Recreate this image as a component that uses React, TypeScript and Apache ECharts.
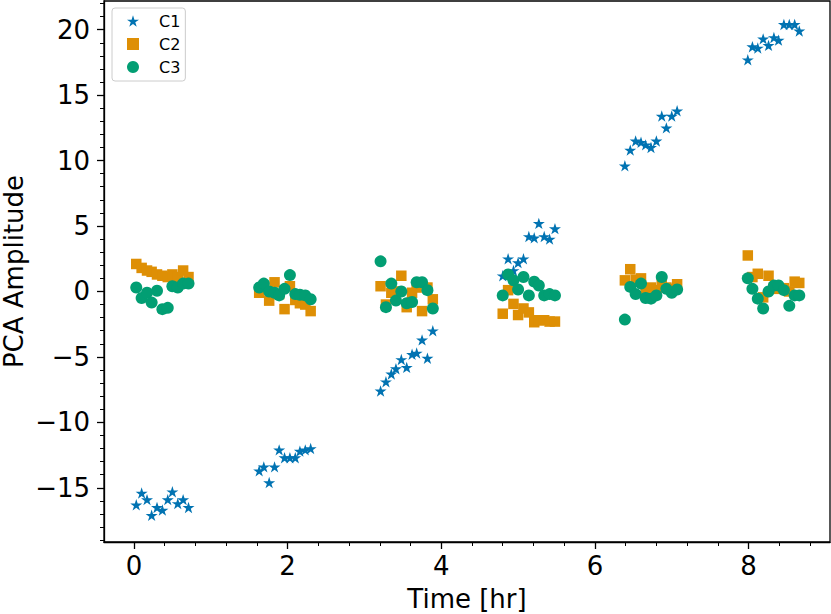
import React, { useEffect, useRef } from "react";
import * as echarts from "echarts";

// Sample times [hr], six acquisition groups
const tG1 = [0.03, 0.10, 0.17, 0.23, 0.30, 0.37, 0.44, 0.50, 0.57, 0.64, 0.71];
const tG2 = [1.63, 1.69, 1.76, 1.83, 1.89, 1.96, 2.03, 2.10, 2.16, 2.23, 2.30];
const tG3 = [3.21, 3.28, 3.35, 3.41, 3.48, 3.55, 3.62, 3.68, 3.75, 3.82, 3.89];
const tG4 = [4.80, 4.87, 4.94, 5.00, 5.07, 5.14, 5.21, 5.27, 5.34, 5.41, 5.48];
const tG5 = [6.39, 6.46, 6.53, 6.60, 6.66, 6.73, 6.80, 6.87, 6.93, 7.00, 7.07];
const tG6 = [7.99, 8.05, 8.12, 8.19, 8.26, 8.33, 8.39, 8.46, 8.53, 8.60, 8.66];

// C1 amplitude
const c1G1 = [-16.3, -15.4, -15.9, -17.1, -16.5, -16.7, -15.9, -15.3, -16.2, -15.9, -16.5];
const c1G2 = [-13.7, -13.4, -14.6, -13.4, -12.1, -12.7, -12.7, -12.7, -12.2, -12.1, -12.0];
const c1G3 = [-7.6, -6.9, -6.3, -5.9, -5.2, -5.8, -4.8, -4.7, -3.7, -5.1, -3.0];
const c1G4 = [1.2, 2.5, 1.6, 2.2, 2.5, 4.2, 4.1, 5.2, 4.2, 4.0, 4.8];
const c1G5 = [9.6, 10.8, 11.5, 11.4, 11.2, 11.0, 11.5, 13.4, 12.5, 13.4, 13.8];
const c1G6 = [17.7, 18.7, 18.6, 19.3, 18.8, 19.4, 19.2, 20.4, 20.4, 20.4, 19.9];

// C2 amplitude
const c2G1 = [2.1, 1.8, 1.6, 1.5, 1.3, 1.2, 1.1, 1.3, 1.1, 1.6, 1.1];
const c2G2 = [-0.1, 0.3, -0.7, 0.7, -0.2, -1.35, 0.4, -0.65, -0.9, -1.0, -1.5];
const c2G3 = [0.4, -1.0, -0.1, 0.0, 1.2, -1.2, -0.1, 0.3, -1.5, 0.3, -0.6];
const c2G4 = [-1.7, 0.1, -0.95, -1.8, -1.3, -1.6, -2.35, -2.2, -2.2, -2.3, -2.3];
const c2G5 = [0.85, 1.7, 0.9, 1.0, 0.2, 0.3, 0.1, 0.6, 0.3, 0.2, 0.55];
const c2G6 = [2.75, 1.1, 1.35, -0.45, 1.2, 0.3, 0.2, 0.25, 0.0, 0.75, 0.65];

// C3 amplitude
const c3G1 = [0.3, -0.5, -0.1, -0.85, 0.05, -1.35, -1.25, 0.4, 0.3, 0.6, 0.6];
const c3G2 = [0.3, 0.6, 0.0, -0.1, -0.3, 0.2, 1.25, -0.2, -0.25, -0.3, -0.6];
const c3G3 = [2.3, -1.2, 0.6, -0.7, 0.0, -0.9, -0.8, 0.7, 0.7, 0.1, -1.3];
const c3G4 = [-0.3, 1.3, 0.85, 0.15, 1.1, -0.3, 0.75, 0.45, -0.3, -0.2, -0.3];
const c3G5 = [-2.15, 0.35, -0.2, 0.6, -0.5, -0.55, -0.3, 1.1, 0.2, -0.1, 0.15];
const c3G6 = [1.0, 0.2, -0.55, -1.3, 0.0, 0.45, 0.45, 0.1, -1.1, -0.3, -0.3];

const xTicks = [0, 2, 4, 6, 8];
const yTicks = [-15, -10, -5, 0, 5, 10, 15, 20];

const seriesNames = ["C1", "C2", "C3"];
const colors = ["#0173B2", "#DE8F05", "#029E73"];

const STAR =
  "path://M50 0L61.2 34.5L97.6 34.5L68.2 55.9L79.4 90.5L50 69.1L20.6 90.5L31.8 55.9L2.4 34.5L38.8 34.5Z";

const times = [...tG1, ...tG2, ...tG3, ...tG4, ...tG5, ...tG6];
const c1 = [...c1G1, ...c1G2, ...c1G3, ...c1G4, ...c1G5, ...c1G6];
const c2 = [...c2G1, ...c2G2, ...c2G3, ...c2G4, ...c2G5, ...c2G6];
const c3 = [...c3G1, ...c3G2, ...c3G3, ...c3G4, ...c3G5, ...c3G6];

const FONT = "DejaVu Sans";
const fmt = (v: number) => String(v).replace("-", "\u2212");

export default function App() {
  const ref = useRef<HTMLDivElement>(null);
  useEffect(() => {
    document.body.style.margin = "0";
    if (!ref.current) return;
    const chart = echarts.init(ref.current, undefined, { renderer: "svg" });
    const mk = (vals: number[]) => times.map((t, i) => [t, vals[i]]);
    chart.setOption({
      animation: false,
      backgroundColor: "#ffffff",
      grid: {
        left: 104,
        right: 1,
        top: 1,
        bottom: 72,
        containLabel: false,
        outerBoundsMode: "none",
        show: true,
        borderColor: "#000",
        borderWidth: 1.3,
        backgroundColor: "transparent",
      },
      legend: {
        data: seriesNames,
        orient: "vertical",
        left: 112,
        top: 8,
        itemWidth: 12,
        itemHeight: 12,
        itemGap: 7,
        padding: [5, 5, 6, 15],
        borderColor: "#cccccc",
        borderWidth: 1,
        borderRadius: 3,
        backgroundColor: "rgba(255,255,255,0.8)",
        textStyle: {
          fontFamily: FONT,
          fontSize: 16,
          color: "#000",
          lineHeight: 16,
          padding: [0, 0, 0, 15],
        },
      },
      xAxis: {
        type: "value",
        min: -0.39,
        max: 9.06,
        splitNumber: 5,
        name: "Time [hr]",
        nameLocation: "middle",
        nameGap: 45,
        nameMoveOverlap: false,
        nameTextStyle: { fontFamily: FONT, fontSize: 26, lineHeight: 24, color: "#000" },
        axisLine: { show: true, onZero: false, lineStyle: { color: "#000", width: 1.3 } },
        axisTick: { show: true, length: 7, customValues: xTicks, lineStyle: { color: "#000", width: 1.3 } },
        minorTick: { show: true, splitNumber: 5, length: 4, lineStyle: { color: "#000", width: 1 } },
        axisLabel: {
          customValues: xTicks,
          margin: 11,
          fontFamily: FONT,
          fontSize: 26,
          color: "#000",
          formatter: (v: number) => fmt(v),
        },
        splitLine: { show: false },
      },
      yAxis: {
        type: "value",
        min: -19.14,
        max: 22.19,
        splitNumber: 8,
        name: "PCA Amplitude",
        nameLocation: "middle",
        nameGap: 78,
        nameMoveOverlap: false,
        nameTextStyle: { fontFamily: FONT, fontSize: 26, lineHeight: 24, color: "#000" },
        axisLine: { show: true, onZero: false, lineStyle: { color: "#000", width: 1.3 } },
        axisTick: { show: true, length: 7, customValues: yTicks, lineStyle: { color: "#000", width: 1.3 } },
        minorTick: { show: true, splitNumber: 5, length: 4, lineStyle: { color: "#000", width: 1 } },
        axisLabel: {
          customValues: yTicks,
          margin: 14,
          fontFamily: FONT,
          fontSize: 26,
          color: "#000",
          formatter: (v: number) => fmt(v),
        },
        splitLine: { show: false },
      },
      series: [
        {
          name: "C1",
          type: "scatter",
          data: mk(c1),
          symbol: STAR,
          symbolSize: 12,
          symbolKeepAspect: true,
          itemStyle: { color: colors[0], opacity: 1 },
        },
        {
          name: "C2",
          type: "scatter",
          data: mk(c2),
          symbol: "rect",
          symbolSize: 10.5,
          itemStyle: { color: colors[1], opacity: 1 },
        },
        {
          name: "C3",
          type: "scatter",
          data: mk(c3),
          symbol: "circle",
          symbolSize: 12,
          itemStyle: { color: colors[2], opacity: 1 },
        },
      ],
    });
    return () => chart.dispose();
  }, []);
  return <div ref={ref} style={{ width: 831, height: 614 }} />;
}
